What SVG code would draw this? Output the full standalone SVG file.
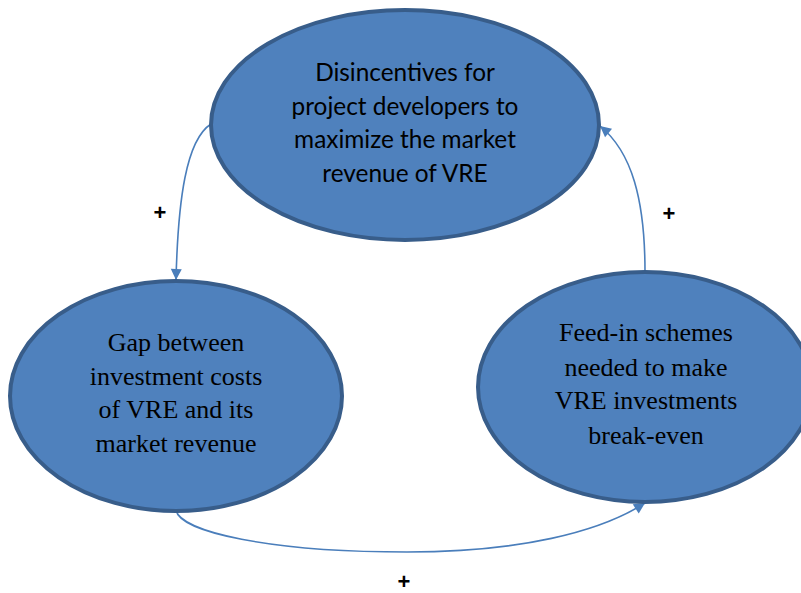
<svg xmlns="http://www.w3.org/2000/svg" width="801" height="593" viewBox="0 0 801 593">
<style>
.node{fill:#4f81bd;stroke:#385d8a;stroke-width:4}
.sans{font-family:Lato,"Open Sans",sans-serif;font-size:24.4px;fill:#000;text-anchor:middle}
.serif{font-size:26px;fill:#000;text-anchor:middle}
.con{fill:none;stroke:#4a7ebb;stroke-width:1.6}
.plus{font-family:"Liberation Sans",Arial,sans-serif;font-weight:bold;font-size:22px;fill:#000;text-anchor:middle}
</style>
<defs>
<marker id="arr" viewBox="0 0 10 10" refX="10" refY="5" markerWidth="11" markerHeight="11" markerUnits="userSpaceOnUse" orient="auto" style="overflow:visible">
<path d="M0,0 L10,5 L0,10 Z" fill="#4a7ebb"/>
</marker>
</defs>
<rect width="801" height="593" fill="#fff"/>
<g id="connectors">
<path class="con" d="M211,124 C186,140 178,200 176,280" marker-end="url(#arr)"/>
<path class="con" d="M645,272 C645,200 632,152 600,126" marker-end="url(#arr)"/>
<path class="con" d="M176,510 C180,532 270,552 407,552 C520,552 600,532 645,503" marker-end="url(#arr)"/>
</g>
<g id="node-top">
<ellipse class="node" cx="405" cy="125" rx="194" ry="115"/>
<text class="sans" x="405" y="81">Disincentives for</text>
<text class="sans" x="405" y="115">project developers to</text>
<text class="sans" x="405" y="148">maximize the market</text>
<text class="sans" x="405" y="182">revenue of VRE</text>
</g>
<g id="node-left" font-family="'Liberation Serif','DejaVu Serif',serif">
<ellipse class="node" cx="176" cy="396" rx="166" ry="115"/>
<text class="serif" x="176" y="351">Gap between</text>
<text class="serif" x="176" y="385">investment costs</text>
<text class="serif" x="176" y="418">of VRE and its</text>
<text class="serif" x="176" y="452">market revenue</text>
</g>
<g id="node-right" font-family="'Liberation Serif','DejaVu Serif',serif">
<ellipse class="node" cx="645" cy="387" rx="167" ry="115"/>
<text class="serif" x="646" y="341">Feed-in schemes</text>
<text class="serif" x="646" y="376">needed to make</text>
<text class="serif" x="646" y="409">VRE investments</text>
<text class="serif" x="646" y="444">break-even</text>
</g>
<g id="labels">
<text class="plus" x="160" y="220">+</text>
<text class="plus" x="669" y="221">+</text>
<text class="plus" x="404" y="589">+</text>
</g>
</svg>
